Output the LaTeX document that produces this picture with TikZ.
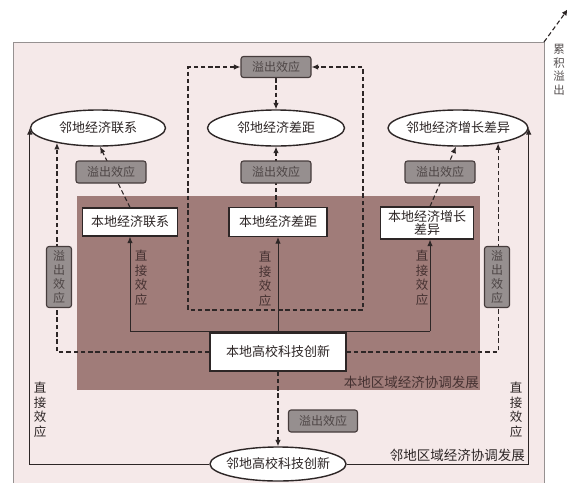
\documentclass[tikz,border=0pt]{standalone}
\usepackage{fontspec}
\setmainfont{Noto Sans CJK SC}
\usetikzlibrary{shapes.geometric,arrows.meta,calc}
\pgfdeclarelayer{bg}\pgfdeclarelayer{mid}\pgfsetlayers{bg,mid,main}
\definecolor{outerfill}{RGB}{245,233,233}
\definecolor{outerline}{RGB}{150,145,145}
\definecolor{innerfill}{RGB}{160,124,121}
\definecolor{spfill}{RGB}{150,143,143}
\definecolor{spline}{RGB}{70,60,60}
\definecolor{sptext}{RGB}{78,70,70}
\definecolor{ink}{RGB}{45,38,38}
\definecolor{inkin}{RGB}{70,50,50}
\newcommand{\zerow}[1]{\makebox[0pt]{#1}}
\tikzset{
 ell/.style={ellipse, draw=ink, fill=white, line width=1.4pt, inner sep=0pt, minimum height=36pt, text=ink, font=\fontsize{13}{15}\selectfont},
 wbox/.style={rectangle, draw=ink, fill=white, line width=1.1pt, inner sep=0pt, text=ink, font=\fontsize{13}{15}\selectfont, align=center},
 spbox/.style={rectangle, rounded corners=2.5pt, draw=spline, fill=spfill, line width=1.1pt, inner sep=0pt, text=sptext, font=\fontsize{12}{14}\selectfont, align=center},
 conn/.style={draw=ink, line width=1pt, -{Latex[length=6.5pt,width=5.5pt]}},
 dconn/.style={conn, line width=1.1pt, dash pattern=on 4.5pt off 2.8pt},
 dline/.style={draw=ink, line width=1.1pt, dash pattern=on 4.5pt off 2.8pt},
 sline/.style={draw=ink, line width=1pt},
 vlabel/.style={align=center, inner sep=0pt, font=\fontsize{12.5}{14.5}\selectfont},
}
\begin{document}
\begin{tikzpicture}[x=1pt,y=-1pt]
\useasboundingbox (0,0) rectangle (567,482);
% background regions
\begin{pgfonlayer}{bg}
\fill[outerfill] (13,42) rectangle (544,495);
\draw[outerline, line width=1pt] (13,495) -- (13,42) -- (544,42) -- (544,495);
\fill[innerfill] (77,196) rectangle (480,390);
\end{pgfonlayer}
% ellipses
\node[ell, minimum width=135pt] (e1) at (98,128) {\zerow{邻地经济联系}};
\node[ell, minimum width=137pt] (e2) at (276,128) {\zerow{邻地经济差距}};
\node[ell, minimum width=140pt] (e3) at (458,128) {\zerow{邻地经济增长差异}};
\node[ell, minimum width=136pt, minimum height=34pt] (bot) at (278,464) {\zerow{邻地高校科技创新}};
% white boxes
\node[wbox, minimum width=95pt, minimum height=28pt] (b1) at (130,222) {本地经济联系};
\node[wbox, minimum width=98pt, minimum height=29pt] (b2) at (278,222) {本地经济差距};
\node[wbox, minimum width=93pt, minimum height=32pt, font=\fontsize{13}{13}\selectfont] (b3) at (427,223) {本地经济增长\\差异};
\node[wbox, minimum width=136pt, minimum height=38pt] (src) at (278,352) {本地高校科技创新};
% spillover boxes
\node[spbox, minimum width=70pt, minimum height=21pt] (spT) at (276,67) {溢出效应};
\node[spbox, minimum width=70pt, minimum height=22pt] (spL1) at (111,172) {溢出效应};
\node[spbox, minimum width=70pt, minimum height=22pt] (spM) at (276,172) {溢出效应};
\node[spbox, minimum width=70pt, minimum height=22pt] (spR1) at (440,172) {溢出效应};
\node[spbox, minimum width=69pt, minimum height=22pt] (sp0) at (323,421) {溢出效应};
\node[spbox, minimum width=25pt, minimum height=61pt] (spL2) at (59,277) {溢\\出\\效\\应};
\node[spbox, minimum width=25pt, minimum height=61pt] (spR2) at (497,277) {溢\\出\\效\\应};
% labels
\node[vlabel, text=inkin] (dL) at (141,278) {直\\接\\效\\应};
\node[vlabel, text=inkin] (dM) at (265,279) {直\\接\\效\\应};
\node[vlabel, text=inkin] (dR) at (422,278) {直\\接\\效\\应};
\node[vlabel, text=ink] (dOL) at (40,410) {直\\接\\效\\应};
\node[vlabel, text=ink] (dOR) at (516,410) {直\\接\\效\\应};
\node[anchor=south east, inner sep=0pt, text=inkin, font=\fontsize{13.5}{15}\selectfont] (lin) at (479,389) {本地区域经济协调发展};
\node[anchor=south east, inner sep=0pt, text=ink, font=\fontsize{13.5}{15}\selectfont] (lout) at (525,462) {邻地区域经济协调发展};
\node[vlabel, text=ink!80, font=\fontsize{11.5}{13.5}\selectfont] (cum) at (559,70) {累\\积\\溢\\出};
\coordinate (jL) at (130,331);
\coordinate (jR) at (430,331);
\coordinate (corner) at (544,42);
\coordinate (cornerend) at (568,9);
\coordinate (lpA) at (188,67);
\coordinate (lpB) at (188,310);
\coordinate (lpC) at (363,310);
\coordinate (lpD) at (363,67);
% connectors
\begin{pgfonlayer}{mid}
\draw[conn] (bot.west) -| (e1.west);
\draw[conn] (bot.east) -| (e3.east);
\draw[dconn] (src.south) -- (bot.north);
\draw[sline] (jL) -- (jR);
\draw[conn] (jL) -- (b1.south);
\draw[conn] (jR) -- (jR |- b3.south);
\draw[conn] (src.north) -- (b2.south);
\draw[dconn] (src.west) -| (e1.200.64);
\draw[dconn] (src.east) -| (e3.339.03);
\draw[dconn] (b1.north) -- ($(e1.south)+(2,0)$);
\draw[dconn] (jR |- b3.north) -- ($(e3.south)+(-2,0)$);
\draw[dconn] (b2.north -| e2.south) -- (e2.south);
\draw[dconn] (spT.south) -- (e2.north);
\draw[dline, {Latex[length=6.5pt,width=5.5pt]}-{Latex[length=6.5pt,width=5.5pt]}] (spT.west) -- (lpA) -- (lpB) -- (lpC) -- (lpD) -- (spT.east);
\draw[dconn] (corner) -- (cornerend);
\end{pgfonlayer}
\end{tikzpicture}
\end{document}
